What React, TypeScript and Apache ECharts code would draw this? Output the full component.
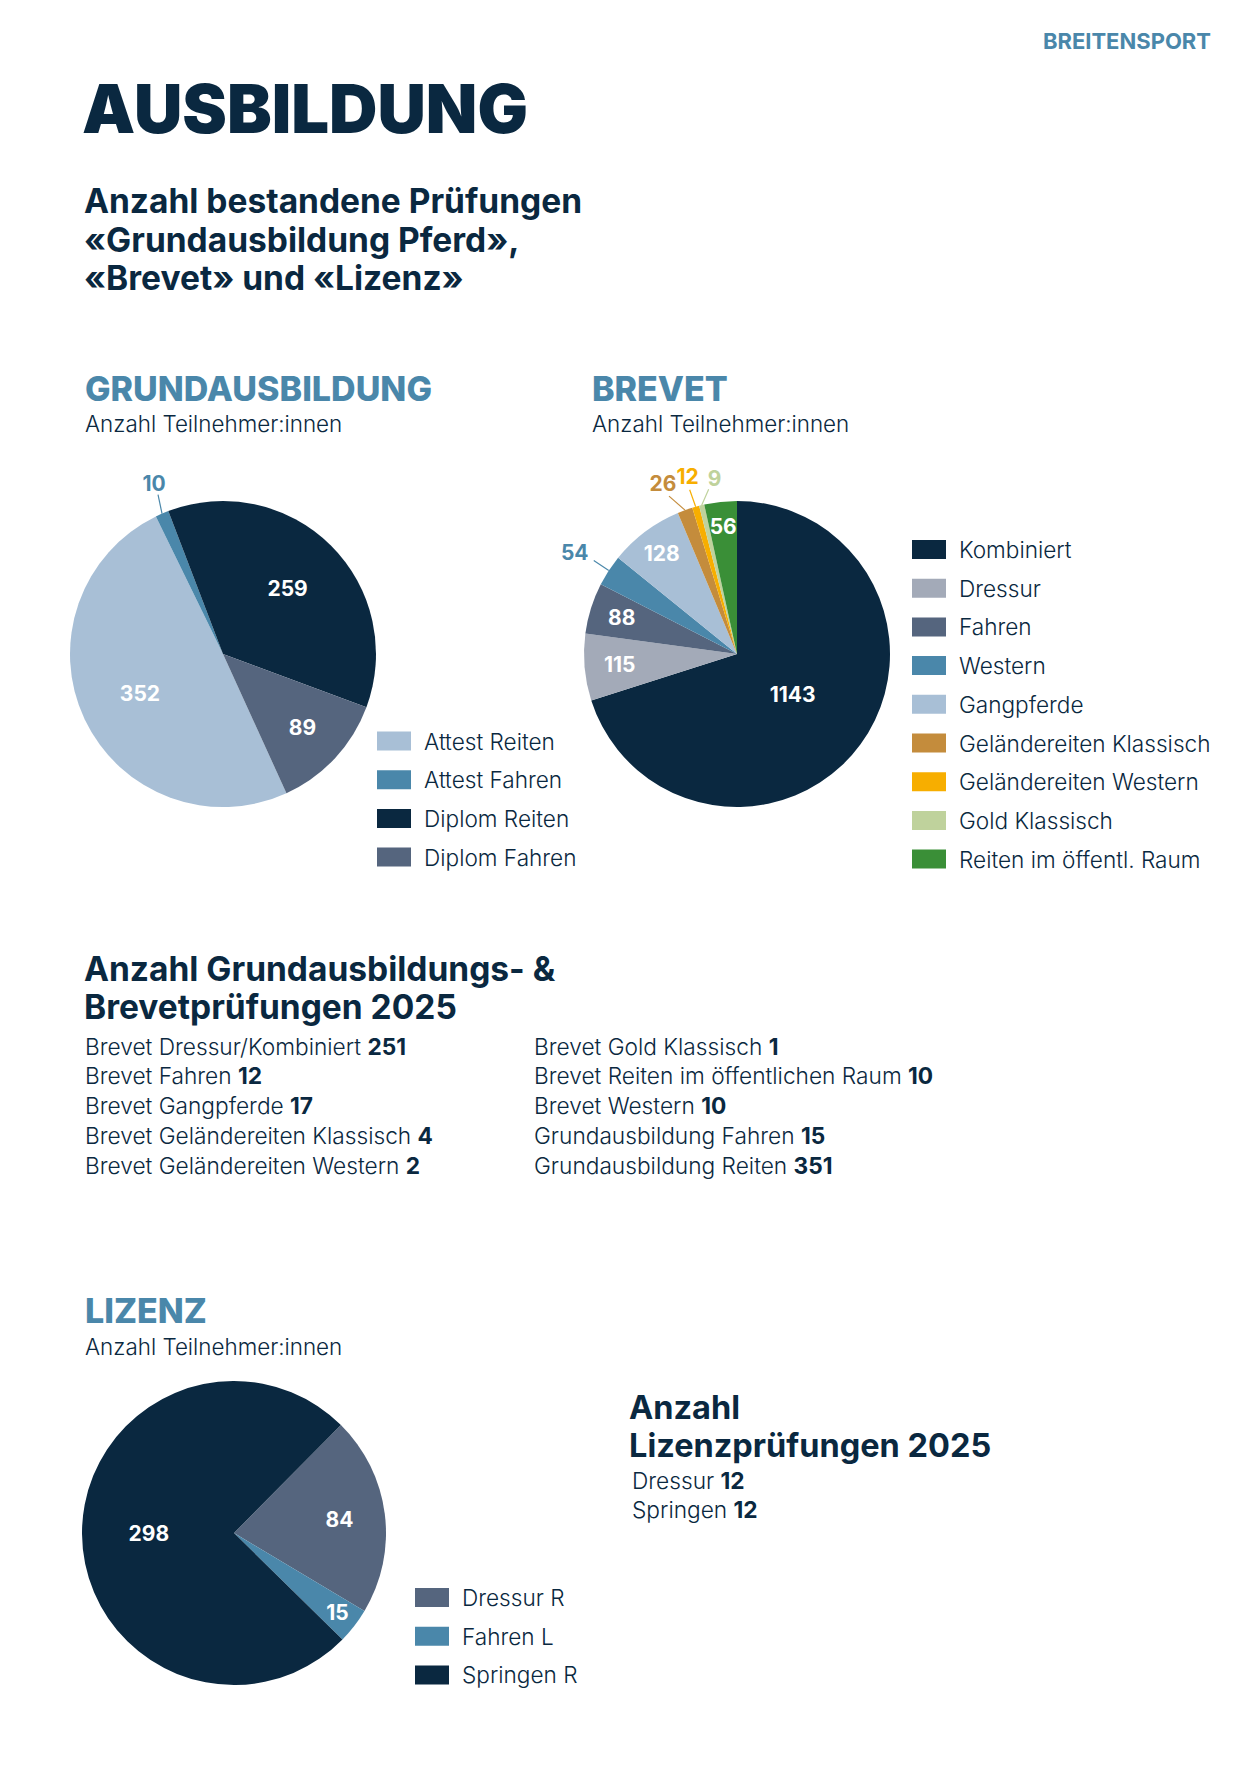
import React, { useEffect, useRef } from "react";
import * as echarts from "echarts";

// ---------- data ----------
const grundNames = ["Attest Reiten", "Attest Fahren", "Diplom Reiten", "Diplom Fahren"];
const grundValues = [352, 10, 259, 89];

const brevetNames = [
  "Kombiniert",
  "Dressur",
  "Fahren",
  "Western",
  "Gangpferde",
  "Geländereiten Klassisch",
  "Geländereiten Western",
  "Gold Klassisch",
  "Reiten im öffentl. Raum",
];
const brevetValues = [1143, 115, 88, 54, 128, 26, 12, 9, 56];

const lizenzNames = ["Dressur R", "Fahren L", "Springen R"];
const lizenzValues = [84, 15, 298];

const summaryLeftLabels = [
  "Brevet Dressur/Kombiniert",
  "Brevet Fahren",
  "Brevet Gangpferde",
  "Brevet Geländereiten Klassisch",
  "Brevet Geländereiten Western",
];
const summaryLeftValues = [251, 12, 17, 4, 2];
const summaryRightLabels = [
  "Brevet Gold Klassisch",
  "Brevet Reiten im öffentlichen Raum",
  "Brevet Western",
  "Grundausbildung Fahren",
  "Grundausbildung Reiten",
];
const summaryRightValues = [1, 10, 10, 15, 351];
const lizenzSummaryLabels = ["Dressur", "Springen"];
const lizenzSummaryValues = [12, 12];

// ---------- styles ----------
const NAVY = "#0a2840";
const BLUE = "#4a87aa";
const F = "Inter, Lato, 'Noto Sans', sans-serif";

const grundColors = ["#a8bfd6", "#4a87aa", "#0a2840", "#55657e"];
const brevetColors = ["#0a2840", "#a3aab8", "#55657e", "#4a87aa", "#a8bfd6", "#c48c3c", "#f7ae00", "#bfd29c", "#3a8f37"];
const lizenzColors = ["#55657e", "#4a87aa", "#0a2840"];

type LS = { k?: number; line?: number[]; label?: number[] };
const grundLabelStyle: LS[] = [
  { k: 0.6 },
  { line: [-4, -19], label: [-8, -30] },
  { k: 0.6 },
  { k: 0.71 },
];
const brevetLabelStyle: LS[] = [
  { k: 0.45 },
  { k: 0.77 },
  { k: 0.79 },
  { line: [-15, -10], label: [-34, -18] },
  { k: 0.82 },
  { line: [-16, -14], label: [-22, -27] },
  { line: [-6, -17], label: [-8, -30] },
  { line: [7, -16], label: [13, -27] },
  { k: 0.84 },
];
const lizenzLabelStyle: LS[] = [{ k: 0.7 }, { k: 0.86 }, { k: 0.56 }];

function makeLabelLayout(values: number[], startAngle: number, cx: number, cy: number, r: number, styles: LS[]) {
  const total = values.reduce((a, b) => a + b, 0);
  const fromTop = 90 - startAngle;
  const mids: number[] = [];
  let acc = 0;
  values.forEach((v) => {
    mids.push(fromTop + ((acc + v / 2) / total) * 360);
    acc += v;
  });
  return (params: any) => {
    const s = styles[params.dataIndex];
    const a = (mids[params.dataIndex] * Math.PI) / 180;
    const ux = Math.sin(a);
    const uy = -Math.cos(a);
    if (s.k != null) {
      return { x: cx + ux * r * s.k, y: cy + uy * r * s.k, align: "center", verticalAlign: "middle" };
    }
    const px = cx + ux * r;
    const py = cy + uy * r;
    return {
      x: px + s.label![0],
      y: py + s.label![1],
      align: "center",
      verticalAlign: "middle",
      labelLinePoints: [
        [px, py],
        [px + s.line![0], py + s.line![1]],
      ],
    };
  };
}

function pieSeries(names: string[], values: number[], colors: string[], styles: LS[], cx: number, cy: number, r: number, startAngle: number) {
  return {
    type: "pie",
    center: [cx, cy],
    radius: [0, r],
    startAngle,
    clockwise: true,
    avoidLabelOverlap: false,
    emphasis: { disabled: true },
    itemStyle: { borderWidth: 0 },
    label: {
      show: true,
      position: "inside",
      formatter: "{c}",
      color: "#ffffff",
      fontSize: 21,
      fontWeight: 700,
      fontFamily: F,
    },
    labelLine: { show: false },
    labelLayout: makeLabelLayout(values, startAngle, cx, cy, r, styles),
    data: values.map((v, i) => {
      const outside = styles[i].k == null;
      const item: any = { name: names[i], value: v, itemStyle: { color: colors[i] } };
      if (outside) {
        item.label = { position: "outside", color: colors[i] };
        item.labelLine = { show: true, length: 10, length2: 0, lineStyle: { color: colors[i], width: 1.2 } };
      }
      return item;
    }),
  };
}

function legend(names: string[], left: number, top: number) {
  return {
    data: names,
    orient: "vertical",
    left,
    top,
    padding: 0,
    icon: "rect",
    itemWidth: 34,
    itemHeight: 19,
    itemGap: 15.7,
    selectedMode: false,
    textStyle: {
      fontSize: 22.6,
      fontWeight: 300,
      fontFamily: F,
      color: NAVY,
      lineHeight: 19,
      padding: [0, 0, 0, 8],
    },
  };
}

function txt(text: string, x: number, y: number, size: number, weight: number, color: string, align = "left") {
  return {
    type: "text",
    x,
    y,
    silent: true,
    style: {
      text,
      fontSize: size,
      fontWeight: weight,
      fontFamily: F,
      fill: color,
      align,
      verticalAlign: "middle",
      textAlign: align,
      textVerticalAlign: "middle",
    },
  };
}

function richTxt(label: string, value: number, x: number, y: number, size = 22.7) {
  return {
    type: "text",
    x,
    y,
    silent: true,
    style: {
      text: `{a|${label} }{b|${value}}`,
      fontFamily: F,
      fontSize: size,
      fill: NAVY,
      verticalAlign: "middle",
      textVerticalAlign: "middle",
      rich: {
        a: { fontSize: size, fontWeight: 300, fontFamily: F, fill: NAVY, color: NAVY },
        b: { fontSize: size, fontWeight: 700, fontFamily: F, fill: NAVY, color: NAVY },
      },
    },
  };
}

export default function App() {
  const ref = useRef<HTMLDivElement>(null);
  useEffect(() => {
    if (!ref.current) return;
    const chart = echarts.init(ref.current, null, { renderer: "svg" });

    const graphics: any[] = [
      txt("BREITENSPORT", 1211, 41, 22, 700, BLUE, "right"),
      txt("AUSBILDUNG", 82, 108, 67, 900, NAVY),
      txt("Anzahl bestandene Prüfungen", 84, 201, 33.5, 700, NAVY),
      txt("«Grundausbildung Pferd»,", 84, 240, 33.5, 700, NAVY),
      txt("«Brevet» und «Lizenz»", 84, 278, 33.5, 700, NAVY),
      txt("GRUNDAUSBILDUNG", 85, 388, 34, 800, BLUE),
      txt("Anzahl Teilnehmer:innen", 85, 423, 22.4, 300, NAVY),
      txt("BREVET", 592, 388, 34, 800, BLUE),
      txt("Anzahl Teilnehmer:innen", 592, 423, 22.4, 300, NAVY),
      txt("Anzahl Grundausbildungs- &", 84, 969, 33.5, 700, NAVY),
      txt("Brevetprüfungen 2025", 84, 1007, 33.5, 700, NAVY),
      txt("LIZENZ", 85, 1310, 34, 800, BLUE),
      txt("Anzahl Teilnehmer:innen", 85, 1346, 22.4, 300, NAVY),
      txt("Anzahl", 629, 1407, 32.5, 700, NAVY),
      txt("Lizenzprüfungen 2025", 629, 1445, 32.5, 700, NAVY),
    ];
    summaryLeftLabels.forEach((l, i) => graphics.push(richTxt(l, summaryLeftValues[i], 85, 1046 + i * 29.8)));
    summaryRightLabels.forEach((l, i) => graphics.push(richTxt(l, summaryRightValues[i], 534, 1046 + i * 29.8)));
    lizenzSummaryLabels.forEach((l, i) => graphics.push(richTxt(l, lizenzSummaryValues[i], 632, 1480 + i * 29.5)));

    chart.setOption({
      animation: false,
      backgroundColor: "#ffffff",
      textStyle: { fontFamily: F },
      legend: [
        legend(grundNames, 377, 729.5),
        legend(brevetNames, 912, 538),
        legend(lizenzNames, 415, 1586),
      ],
      series: [
        pieSeries(grundNames, grundValues, grundColors, grundLabelStyle, 223, 654, 153, -65.5),
        pieSeries(brevetNames, brevetValues, brevetColors, brevetLabelStyle, 737, 654, 153, 90),
        pieSeries(lizenzNames, lizenzValues, lizenzColors, lizenzLabelStyle, 234, 1533, 152, 45.3),
      ],
      graphic: graphics,
    });
    return () => chart.dispose();
  }, []);
  return (
    <div
      ref={ref}
      style={{ position: "absolute", left: 0, top: 0, width: 1246, height: 1767, background: "#fff" }}
    />
  );
}
